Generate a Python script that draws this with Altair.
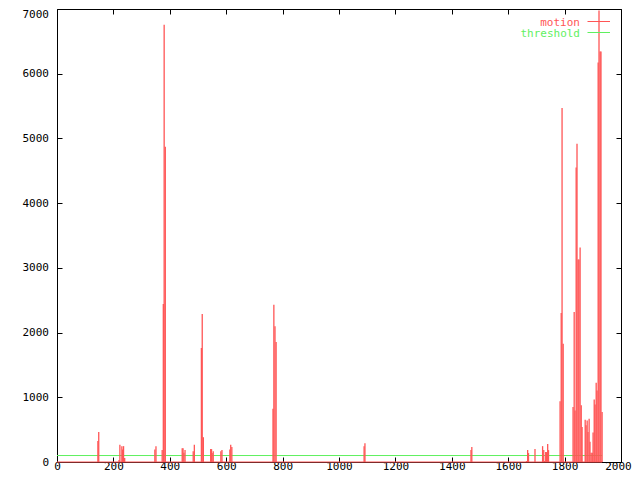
import altair as alt
import pandas as pd

# ---- data ----
spike_frame = [145, 148, 220, 223, 230, 233, 236, 240, 347, 351, 373, 377, 380, 384,
               444, 447, 450, 454, 483, 487, 512, 515, 519, 545, 548, 550, 554,
               581, 585, 613, 616, 620, 766, 769, 773, 777, 1089, 1092, 1468, 1471,
               1665, 1669, 1672, 1695, 1722, 1726, 1729, 1733, 1736, 1740, 1743,
               1784, 1788, 1791, 1795, 1830, 1834, 1837, 1841, 1844, 1848, 1851,
               1855, 1859, 1862, 1873, 1876, 1880, 1883, 1887, 1890, 1894, 1898,
               1901, 1905, 1908, 1912, 1915, 1919, 1922, 1926, 1929, 1933]
spike_motion = [326, 464, 31, 265, 245, 194, 245, 61, 194, 245, 184, 2440, 6755, 4871,
                214, 214, 143, 184, 168, 265, 1762, 2287, 383, 199, 199, 138, 168,
                168, 184, 194, 265, 230, 822, 2431, 2099, 1854, 245, 291, 184, 230,
                15, 184, 138, 199, 245, 184, 15, 153, 153, 278, 184,
                939, 2303, 5469, 1828, 848, 2318, 797, 4550, 4918, 3130, 3130,
                3314, 878, 541, 654, 567, 643, 465, 669, 312, 143, 143,
                454, 965, 889, 1226, 1103, 6174, 6975, 6342, 6342, 771]
frame_range = [0, 1933]
threshold_value = 100
legend_labels = ["motion", "threshold"]
x_ticks = list(range(0, 2001, 200))
y_ticks = list(range(0, 7001, 1000))

RED = "#ff5555"
GREEN = "#5ff05f"
FONT = "DejaVu Sans Mono"

spikes = pd.DataFrame({"frame": spike_frame, "motion": spike_motion})
span = pd.DataFrame({"start": [frame_range[0]], "end": [frame_range[1]],
                     "threshold": [threshold_value], "zero": [0]})

xscale = alt.Scale(domain=[0, 2000], nice=False, zero=False)
yscale = alt.Scale(domain=[0, 7000], nice=False)

axis_common = dict(domain=False, grid=False, tickSize=5, tickColor="black",
                   tickWidth=1, offset=-5, labelFont=FONT, labelFontSize=11,
                   labelColor="black", format="d")

x_bottom = alt.Axis(orient="bottom", values=x_ticks, title=None, labelPadding=7.5,
                    labelBaseline="alphabetic", labelFlush=False, labelOverlap=False,
                    labelOffset=alt.condition("datum.value == 2000", alt.value(-3), alt.value(0)),
                    **axis_common)
x_top = alt.Axis(orient="top", values=x_ticks, title=None, labels=False, **axis_common)
y_left = alt.Axis(orient="left", values=y_ticks, title=None, labelPadding=8.5,
                  labelBaseline="middle", labelFlush=False, labelOverlap=False,
                  labelOffset=alt.condition("datum.value == 7000", alt.value(5), alt.value(0)),
                  **axis_common)
y_right = alt.Axis(orient="right", values=y_ticks, title=None, labels=False, **axis_common)

impulses = alt.Chart(spikes).mark_rule(color=RED, strokeWidth=1.3).encode(
    x=alt.X("frame:Q", scale=xscale, axis=x_bottom),
    y=alt.Y("motion:Q", scale=yscale, axis=y_left),
    y2=alt.datum(0),
)

threshold = alt.Chart(span).mark_rule(color=GREEN, strokeWidth=1).encode(
    x=alt.X("start:Q", scale=xscale, axis=x_top),
    x2="end:Q",
    y=alt.Y("threshold:Q", scale=yscale, axis=y_right),
)

baseline = alt.Chart(span).mark_rule(color=RED, strokeWidth=1).encode(
    x=alt.X("start:Q", scale=xscale, axis=None),
    x2="end:Q",
    y=alt.Y("zero:Q", scale=yscale, axis=None),
)

leg_df = pd.DataFrame({"label": legend_labels})
leg_text_motion = alt.Chart(leg_df).transform_filter(
    alt.datum.label == legend_labels[0]).mark_text(
    align="right", baseline="alphabetic", font=FONT, fontSize=11, color=RED
).encode(text="label:N", x=alt.value(523), y=alt.value(17))
leg_text_thr = alt.Chart(leg_df).transform_filter(
    alt.datum.label == legend_labels[1]).mark_text(
    align="right", baseline="alphabetic", font=FONT, fontSize=11, color=GREEN
).encode(text="label:N", x=alt.value(523), y=alt.value(27.5))
leg_line_motion = alt.Chart(leg_df).transform_filter(
    alt.datum.label == legend_labels[0]).mark_rule(color=RED, strokeWidth=1).encode(
    x=alt.value(530.5), x2=alt.value(553), y=alt.value(12.5))
leg_line_thr = alt.Chart(leg_df).transform_filter(
    alt.datum.label == legend_labels[1]).mark_rule(color=GREEN, strokeWidth=1).encode(
    x=alt.value(530.5), x2=alt.value(553), y=alt.value(23.5))

chart = alt.layer(
    threshold, baseline, impulses,
    leg_line_motion, leg_line_thr, leg_text_motion, leg_text_thr
).resolve_axis(x="independent", y="independent").properties(
    width=564, height=453,
    autosize=alt.AutoSizeParams(type="none"),
    padding={"left": 49, "right": 11, "top": 1, "bottom": 10},
    background="white",
).configure_view(stroke="black", strokeWidth=1)

chart.save("out.html", embed_options={"renderer": "svg", "actions": False})
